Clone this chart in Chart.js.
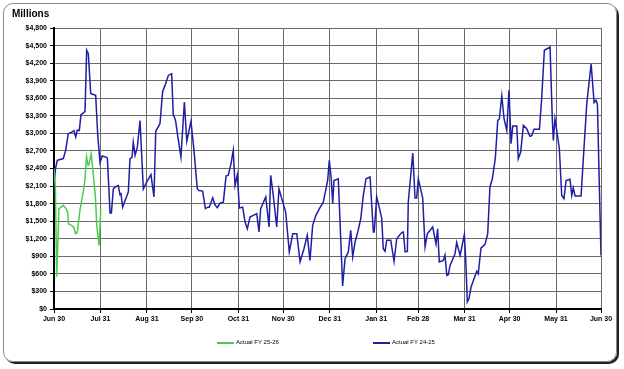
<!DOCTYPE html>
<html>
<head>
<meta charset="utf-8">
<script src="https://cdn.jsdelivr.net/npm/chart.js@4.4.1/dist/chart.umd.min.js"></script>
<style>
  html, body { margin: 0; padding: 0; background: #fff; }
  #wrap { position: relative; width: 624px; height: 369px; font-family: "Liberation Sans", Arial, sans-serif; }
  #marco { position: absolute; left: 3px; top: 3px; width: 612px; height: 357px; border: 1px solid #8a8a8a; border-radius: 10px; box-shadow: 2px 2px 0 #222; }
  #grafico { position: absolute; left: 0; top: 0; }
  #titulo { position: absolute; left: 12px; top: 8px; font-size: 10px; font-weight: bold; color: #000; }
  .item { position: absolute; top: 338px; height: 9px; font-size: 6px; line-height: 9px; color: #000; white-space: nowrap; }
  .linea { position: absolute; top: 4px; width: 17px; height: 1.5px; }
  .texto { position: absolute; left: 19px; top: 0; }
</style>
</head>
<body>
<div id="wrap">
  <div id="marco"></div>
  <canvas id="grafico" width="624" height="369"></canvas>
  <div id="titulo">Millions</div>
  <div class="item" style="left:217px"><span class="linea" style="background:#4ccc4c"></span><span class="texto">Actual FY 25-26</span></div>
  <div class="item" style="left:373px"><span class="linea" style="background:#1f1fa5"></span><span class="texto">Actual FY 24-25</span></div>
</div>
<script>
// dias desde el 30 de junio
const tickDias = [0, 31, 62, 92, 123, 153, 184, 215, 243, 274, 304, 335, 365];
const tickEtiquetas = ["Jun 30", "Jul 31", "Aug 31", "Sep 30", "Oct 31", "Nov 30", "Dec 31", "Jan 31", "Feb 28", "Mar 31", "Apr 30", "May 31", "Jun 30"];

const verdeDias = [0, 0.9, 1.8, 3.3, 6.2, 7.7, 9.1, 9.7, 11.7, 13.3, 14.4, 15.5, 17.3, 19.5, 20.6, 21.7, 22.8, 23.5, 24.8, 26.1, 27.7, 28.5, 30.1, 31.2];
const verdeValores = [2400, 2100, 550, 1715, 1770, 1725, 1655, 1455, 1430, 1390, 1285, 1305, 1685, 2000, 2195, 2605, 2455, 2480, 2655, 2340, 1885, 1430, 1085, 1700];

const azulDias = [
  0, 1, 2.2, 6.2, 7.8, 9.5, 11.8, 13.3, 14.5, 15.5,
  16.9, 18, 19.6, 20.7, 21.8, 22.9, 24.5, 26.2, 27.8, 29.2,
  30.7, 32.2, 34.7, 35.6, 37.4, 38.3, 39.6, 41.8, 42.9, 44.0,
  44.7, 45.8, 49.6, 50.7, 52.1, 52.9, 54.1, 55.6, 57.4, 59.6,
  61.9, 64.7, 66.7, 67.9, 70.7, 72.5, 74.1, 76.3, 78.5, 79.6,
  80.3, 81.2, 82.5, 84.7, 87.0, 88.6, 91.4, 93.4, 95.6, 96.8,
  99.2, 101.0, 102.6, 103.6, 105.9, 107.4, 109.0, 110.8, 113.0, 114.8,
  116.3, 118.1, 119.6, 120.8, 122.3, 123.7, 125.9, 127.5, 129.0, 130.8,
  133.0, 135.3, 136.8, 137.9, 141.3, 143.5, 144.6, 146.3, 148.6, 150.1,
  152.3, 154.6, 157.0, 159.3, 162.0, 164.2, 166.8, 169.0, 170.8, 172.6,
  174.8, 177.1, 179.7, 181.5, 182.6, 183.7, 184.8, 186.0, 186.8, 189.7,
  192.6, 194.2, 196.4, 198.0, 199.3, 200.9, 202.7, 204.7, 206.4, 208.2,
  210.9, 213.1, 213.7, 215.3, 217.5, 218.7, 219.7, 220.9, 222.0, 224.7,
  226.9, 228.7, 232.0, 233.1, 234.3, 235.8, 236.4, 239.4, 240.9, 242.0,
  243.1, 246.0, 247.6, 249.1, 252.7, 254.9, 256.0, 257.1, 259.8, 260.9,
  262.1, 263.1, 264.3, 267.6, 268.7, 271.0, 273.8, 274.7, 275.8, 276.9,
  278.3, 282.1, 283.1, 284.9, 287.6, 289.4, 290.9, 292.5, 294.5, 296.1,
  297.2, 298.8, 300.3, 302.1, 303.6, 305.0, 306.1, 308.8, 309.8, 311.4,
  313.2, 315.4, 317.6, 318.8, 320.3, 323.9, 325.4, 327.2, 331.0, 332.5,
  333.2, 334.3, 337.2, 338.8, 340.3, 341.7, 344.3, 345.5, 346.5, 347.7,
  351.7, 353.2, 355.5, 358.4, 360.4, 361.7, 362.6, 365
];
const azulValores = [
  2100, 2400, 2540, 2570, 2710, 2995, 3020, 3045, 2940, 3055,
  3050, 3320, 3350, 3375, 4420, 4360, 3680, 3665, 3650, 2965,
  2500, 2615, 2595, 2580, 1640, 1640, 2055, 2100, 2110, 1955,
  1970, 1740, 2000, 2565, 2595, 2850, 2625, 2765, 3220, 2050,
  2170, 2295, 1915, 3035, 3165, 3715, 3820, 3990, 4020, 3310,
  3280, 3205, 2965, 2595, 3535, 2865, 3205, 2710, 2055, 2025,
  2015, 1715, 1740, 1740, 1900, 1780, 1730, 1810, 1825, 2270,
  2285, 2480, 2710, 2110, 2285, 1725, 1740, 1485, 1370, 1570,
  1600, 1630, 1315, 1715, 1915, 1400, 2285, 1940, 1400, 2055,
  1855, 1655, 975, 1285, 1285, 805, 1030, 1260, 830, 1430,
  1600, 1715, 1825, 2055, 2195, 2540, 2285, 1800, 2195, 2225,
  395, 860, 975, 1345, 890, 1145, 1315, 1545, 1940, 2225,
  2255, 1315, 1315, 1915, 1685, 1545, 1030, 985, 1175, 1175,
  815, 1200, 1305, 1315, 975, 985, 1825, 2665, 1895, 1895,
  2225, 1900, 1060, 1285, 1400, 1115, 1370, 805, 830, 920,
  575, 585, 745, 945, 1135, 915, 1270, 860, 120, 175,
  375, 645, 600, 1040, 1105, 1285, 2085, 2225, 2580, 3220,
  3250, 3640, 3250, 3050, 3735, 2825, 3125, 3125, 2565, 2680,
  3135, 3080, 2950, 2960, 3070, 3070, 3590, 4420, 4475, 3250,
  2880, 3250, 2740, 1940, 1885, 2195, 2215, 1940, 2070, 1930,
  1930, 2565, 3505, 4190, 3525, 3565, 3500, 915
];

function puntos(dias, valores) {
  return dias.map((d, i) => ({ x: d, y: valores[i] }));
}

function dinero(v) {
  return "$" + Number(v).toLocaleString("en-US");
}

const fuenteTicks = { family: "'Liberation Sans', Arial, sans-serif", size: 7, weight: "bold" };
const colorGrid = "#6a6a6a";

new Chart(document.getElementById("grafico"), {
  type: "line",
  data: {
    datasets: [
      { label: "Actual FY 25-26", data: puntos(verdeDias, verdeValores), borderColor: "#4ccc4c", backgroundColor: "#4ccc4c", borderWidth: 1.5, pointRadius: 0, tension: 0 },
      { label: "Actual FY 24-25", data: puntos(azulDias, azulValores), borderColor: "#1f1fa5", backgroundColor: "#1f1fa5", borderWidth: 1.5, pointRadius: 0, tension: 0 }
    ]
  },
  options: {
    responsive: false,
    animation: false,
    devicePixelRatio: 1,
    layout: { padding: { left: 0, right: 23, top: 28, bottom: 0 } },
    plugins: { legend: { display: false }, tooltip: { enabled: false } },
    scales: {
      x: {
        type: "linear",
        min: 0,
        max: 365,
        afterBuildTicks: (scale) => { scale.ticks = tickDias.map((v) => ({ value: v })); },
        afterFit: (scale) => { scale.height = 60; },
        ticks: {
          autoSkip: false,
          maxRotation: 0,
          padding: 2,
          color: "#000",
          font: fuenteTicks,
          callback: (value, index) => tickEtiquetas[index]
        },
        grid: { color: colorGrid, lineWidth: 1, tickLength: 4, tickColor: "#000" },
        border: { display: true, color: "#000", width: 2 }
      },
      y: {
        min: 0,
        max: 4800,
        afterFit: (scale) => { scale.width = 54; },
        ticks: {
          stepSize: 300,
          maxTicksLimit: 20,
          padding: 3,
          color: "#000",
          font: fuenteTicks,
          callback: (value) => dinero(value)
        },
        grid: { color: colorGrid, lineWidth: 1, tickLength: 4, tickColor: "#000" },
        border: { display: true, color: "#000", width: 2 }
      }
    }
  }
});
</script>
</body>
</html>
